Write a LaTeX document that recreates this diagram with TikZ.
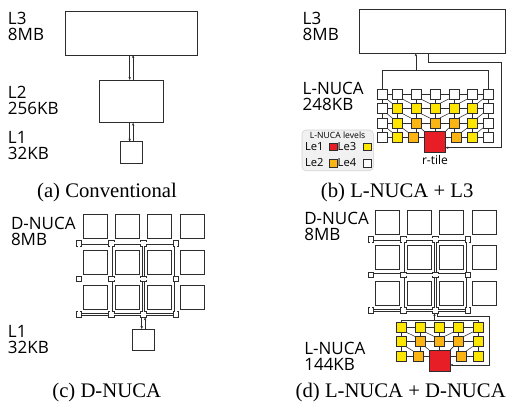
\documentclass[tikz,border=0pt]{standalone}
\usepackage{fontspec}
\setmainfont{Liberation Serif}
\newfontfamily\labfont{Open Sans}
\usetikzlibrary{arrows.meta}
\definecolor{tyel}{RGB}{255,230,0}
\definecolor{tora}{RGB}{250,180,20}
\definecolor{tred}{RGB}{232,30,38}
\definecolor{ln}{RGB}{45,45,45}
\definecolor{legfill}{RGB}{241,241,241}
\definecolor{legdraw}{RGB}{210,210,210}
\begin{document}
\begin{tikzpicture}[x=1pt,y=-1pt,
  every node/.style={inner sep=0pt,outer sep=0pt},
  box/.style={draw=ln,line width=0.75pt,fill=white},
  tile/.style={draw=ln,line width=0.5pt,minimum size=10pt},
  bigtile/.style={draw=ln,line width=0.75pt,fill=white,minimum size=24pt},
  rtr/.style={draw=ln,line width=0.6pt,fill=white,minimum size=5.5pt},
  dlink/.style={draw=ln,line width=0.5pt,double=white,double distance=1.8pt},
  wire/.style={draw=ln,line width=0.55pt},
  arr/.style={wire,-{Stealth[length=3pt,width=2.4pt]}},
  lbl/.style={font=\labfont\fontsize{17}{17}\selectfont,anchor=base west},
  capt/.style={font=\fontsize{20.7}{24}\selectfont,anchor=base},
  legtxt/.style={font=\labfont\fontsize{11.2}{11.2}\selectfont,anchor=base west},
  legsq/.style={draw=ln,line width=0.5pt,minimum size=7.5pt},
]
\path[use as bounding box] (0,0) rectangle (513,410);

% ---------------- (a) Conventional ----------------
\node[box,minimum width=132.7pt,minimum height=43.3pt] (L3a) at (131.4,33.35) {};
\node[box,minimum width=64pt,minimum height=42.7pt] (L2a) at (131.4,101.35) {};
\node[box,minimum size=21.6pt] (L1a) at (131.4,152.5) {};
\draw[arr] ([xshift=-1.7pt]L3a.south) -- ([xshift=-1.7pt]L2a.north);
\draw[arr] ([xshift=1.7pt]L2a.north) -- ([xshift=1.7pt]L3a.south);
\draw[arr] ([xshift=-1.7pt]L2a.south) -- ([xshift=-1.7pt]L1a.north);
\draw[arr] ([xshift=1.7pt]L1a.north) -- ([xshift=1.7pt]L2a.south);
\node[lbl] (ta1) at (8,24.5) {L3};
\node[lbl] (ta2) at (8,40.5) {8MB};
\node[lbl] (ta3) at (8,98.5) {L2};
\node[lbl] (ta4) at (8,114.5) {256KB};
\node[lbl] (ta5) at (8,143) {L1};
\node[lbl] (ta6) at (8,159) {32KB};
\node[capt] (ca) at (107,197.5) {(a) Conventional};

% ---------------- (b) L-NUCA + L3 ----------------
\node[box,minimum width=145.7pt,minimum height=44.3pt] (L3b) at (432.15,31.15) {};
\foreach \c/\x/\col in {1/381.8/white,2/397.3/white,3/415.8/white,4/434.8/white,5/453.8/white,6/472.3/white,7/487.8/white}
  \node[tile,fill=\col] (b-1-\c) at (\x,94) {};
\foreach \c/\x/\col in {1/381.8/white,2/397.3/tyel,3/415.8/tyel,4/434.8/tyel,5/453.8/tyel,6/472.3/tyel,7/487.8/white}
  \node[tile,fill=\col] (b-2-\c) at (\x,108.5) {};
\foreach \c/\x/\col in {1/381.8/white,2/397.3/tyel,3/415.8/tora,4/434.8/tora,5/453.8/tora,6/472.3/tyel,7/487.8/white}
  \node[tile,fill=\col] (b-3-\c) at (\x,123) {};
\foreach \c/\x/\col in {1/381.8/white,2/397.3/tyel,3/413.3/tora,5/456.3/tora,6/472.3/tyel,7/487.8/white}
  \node[tile,fill=\col] (b-4-\c) at (\x,137.5) {};
\node[tile,fill=tred,minimum size=21pt,line width=0.6pt] (b-4-4) at (434.9,142) {};
% links
\foreach \r in {1,...,4}{\foreach \c [evaluate=\c as \n using int(\c+1)] in {1,...,6}{
  \draw[wire] (b-\r-\c.east |- b-\r-1.east) -- (b-\r-\n.west |- b-\r-1.east);}}
\foreach \r [evaluate=\r as \n using int(\r+1)] in {1,2,3}{
  \foreach \c in {1,...,7}{\draw[wire] (b-\r-\c.south) -- (b-\r-\c.south |- b-\n-\c.north);}
  \foreach \c [evaluate=\c as \m using int(\c+1)] in {1,2,3}{\draw[wire] (b-\r-\c.south east) -- (b-\n-\m.north west);}
  \foreach \c [evaluate=\c as \m using int(\c-1)] in {5,6,7}{\draw[wire] (b-\r-\c.south west) -- (b-\n-\m.north east);}
}
\coordinate (bbar) at (0,70);
\coordinate (bret) at (501.7,62);
\draw[wire] (b-1-1.north) -- (b-1-1.north |- bbar) -- (b-1-7.north |- bbar) -- (b-1-7.north);
\draw[arr] (b-1-3.north |- bbar) -- (b-1-3.north |- L3b.south);
\draw[arr] ([xshift=-3.9pt]L3b.south) |- (bret) |- ([yshift=-5.7pt]b-4-4.east);
\node[font=\labfont\fontsize{12}{12}\selectfont,anchor=base] (rt) at (434.9,164.5) {r-tile};
% legend
\node[draw=legdraw,fill=legfill,rounded corners=4pt,line width=0.6pt,minimum width=71.3pt,minimum height=40.7pt] (leg) at (337.65,150.35) {};
\node[font=\labfont\fontsize{8.6}{8.6}\selectfont] (legt) at (337.65,135.5) {L-NUCA levels};
\node[legtxt] (lg1) at (305,150) {Le1};
\node[legsq,fill=tred] (lq1) at (333.2,146.7) {};
\node[legtxt] (lg3) at (337.7,150) {Le3};
\node[legsq,fill=tyel] (lq3) at (367.2,146.7) {};
\node[legtxt] (lg2) at (305,166.5) {Le2};
\node[legsq,fill=tora] (lq2) at (333.2,163) {};
\node[legtxt] (lg4) at (337.7,166.5) {Le4};
\node[legsq,fill=white] (lq4) at (367.2,163) {};
\node[lbl] (tb1) at (302.7,24.5) {L3};
\node[lbl] (tb2) at (302.7,40.5) {8MB};
\node[lbl] (tb3) at (302.7,94.5) {L-NUCA};
\node[lbl] (tb4) at (302.7,110.5) {248KB};
\node[capt] (cb) at (397.2,197.5) {(b) L-NUCA + L3};

% ---------------- (c) D-NUCA ----------------
\foreach \r [evaluate=\r as \yy using 243.3+35.6*(\r-1), evaluate=\r as \ty using 226.3+35.6*(\r-1)] in {1,2,3}{
  \foreach \c [evaluate=\c as \xx using 79+32.2*(\c-1), evaluate=\c as \tx using 95.3+32.2*(\c-1)] in {1,...,4}{
    \node[bigtile] (cT-\r-\c) at (\tx,\ty) {};
    \node[rtr] (cR-\r-\c) at (\xx,\yy) {};
  }}
\foreach \r in {1,2,3}{\foreach \c [evaluate=\c as \n using int(\c+1)] in {1,2,3}{
  \draw[dlink] (cR-\r-\c.east) -- (cR-\r-\n.west);}}
\foreach \c in {1,...,4}{\foreach \r [evaluate=\r as \n using int(\r+1)] in {1,2}{
  \draw[dlink] (cR-\r-\c.south) -- (cR-\n-\c.north);}}
\node[box,minimum size=21.6pt] (L1c) at (143.4,339.9) {};
\draw[arr] ([xshift=-1.7pt]cR-3-3.south) -- ([xshift=-1.7pt]L1c.north);
\draw[arr] ([xshift=1.7pt]L1c.north) -- ([xshift=1.7pt]cR-3-3.south);
\node[lbl] (tc1) at (11,229.5) {D-NUCA};
\node[lbl] (tc2) at (11,245.5) {8MB};
\node[lbl] (tc3) at (8,337.5) {L1};
\node[lbl] (tc4) at (8,353.5) {32KB};
\node[capt] (cc) at (106.7,397) {(c) D-NUCA};

% ---------------- (d) L-NUCA + D-NUCA ----------------
\foreach \r [evaluate=\r as \yy using 239.2+35.6*(\r-1), evaluate=\r as \ty using 222.2+35.6*(\r-1)] in {1,2,3}{
  \foreach \c [evaluate=\c as \xx using 371+32.2*(\c-1), evaluate=\c as \tx using 387.3+32.2*(\c-1)] in {1,...,4}{
    \node[bigtile] (dT-\r-\c) at (\tx,\ty) {};
    \node[rtr] (dR-\r-\c) at (\xx,\yy) {};
  }}
\foreach \r in {1,2,3}{\foreach \c [evaluate=\c as \n using int(\c+1)] in {1,2,3}{
  \draw[dlink] (dR-\r-\c.east) -- (dR-\r-\n.west);}}
\foreach \c in {1,...,4}{\foreach \r [evaluate=\r as \n using int(\r+1)] in {1,2}{
  \draw[dlink] (dR-\r-\c.south) -- (dR-\n-\c.north);}}
\foreach \c/\x/\col in {1/400.8/tyel,2/420/tyel,3/439.3/tyel,4/458.6/tyel,5/477.8/tyel}
  \node[tile,fill=\col] (d-1-\c) at (\x,327) {};
\foreach \c/\x/\col in {1/400.8/tyel,2/420/tora,3/439.3/tora,4/458.6/tora,5/477.8/tyel}
  \node[tile,fill=\col] (d-2-\c) at (\x,341.5) {};
\foreach \c/\x/\col in {1/400.8/tyel,2/418/tora,4/461.3/tora,5/477.8/tyel}
  \node[tile,fill=\col] (d-3-\c) at (\x,356) {};
\node[tile,fill=tred,minimum size=21pt,line width=0.6pt] (d-3-3) at (439.6,360.5) {};
\foreach \r in {1,2,3}{\foreach \c [evaluate=\c as \n using int(\c+1)] in {1,...,4}{
  \draw[wire] (d-\r-\c.east |- d-\r-1.east) -- (d-\r-\n.west |- d-\r-1.east);}}
\foreach \r [evaluate=\r as \n using int(\r+1)] in {1,2}{
  \foreach \c in {1,...,5}{\draw[wire] (d-\r-\c.south) -- (d-\r-\c.south |- d-\n-\c.north);}
  \foreach \c [evaluate=\c as \m using int(\c+1)] in {1,2}{\draw[wire] (d-\r-\c.south east) -- (d-\n-\m.north west);}
  \foreach \c [evaluate=\c as \m using int(\c-1)] in {4,5}{\draw[wire] (d-\r-\c.south west) -- (d-\n-\m.north east);}
}
\coordinate (dbar) at (0,319.8);
\coordinate (dret) at (489.5,316.5);
\coordinate (dup) at (434.5,319.8);
\draw[wire] (d-1-1.north) -- (d-1-1.north |- dbar) -- (d-1-5.north |- dbar) -- (d-1-5.north);
\draw[arr] (dup) -- (dup |- dR-3-3.south);
\draw[arr] ([xshift=1.7pt]dR-3-3.south) |- (dret) |- ([yshift=-4.5pt]d-3-3.east);
\node[lbl] (td1) at (304.3,224.5) {D-NUCA};
\node[lbl] (td2) at (304.3,240.5) {8MB};
\node[lbl] (td3) at (304.3,354) {L-NUCA};
\node[lbl] (td4) at (304.3,370) {144KB};
\node[capt] (cd) at (400.7,397) {(d) L-NUCA + D-NUCA};
\end{tikzpicture}
\end{document}
